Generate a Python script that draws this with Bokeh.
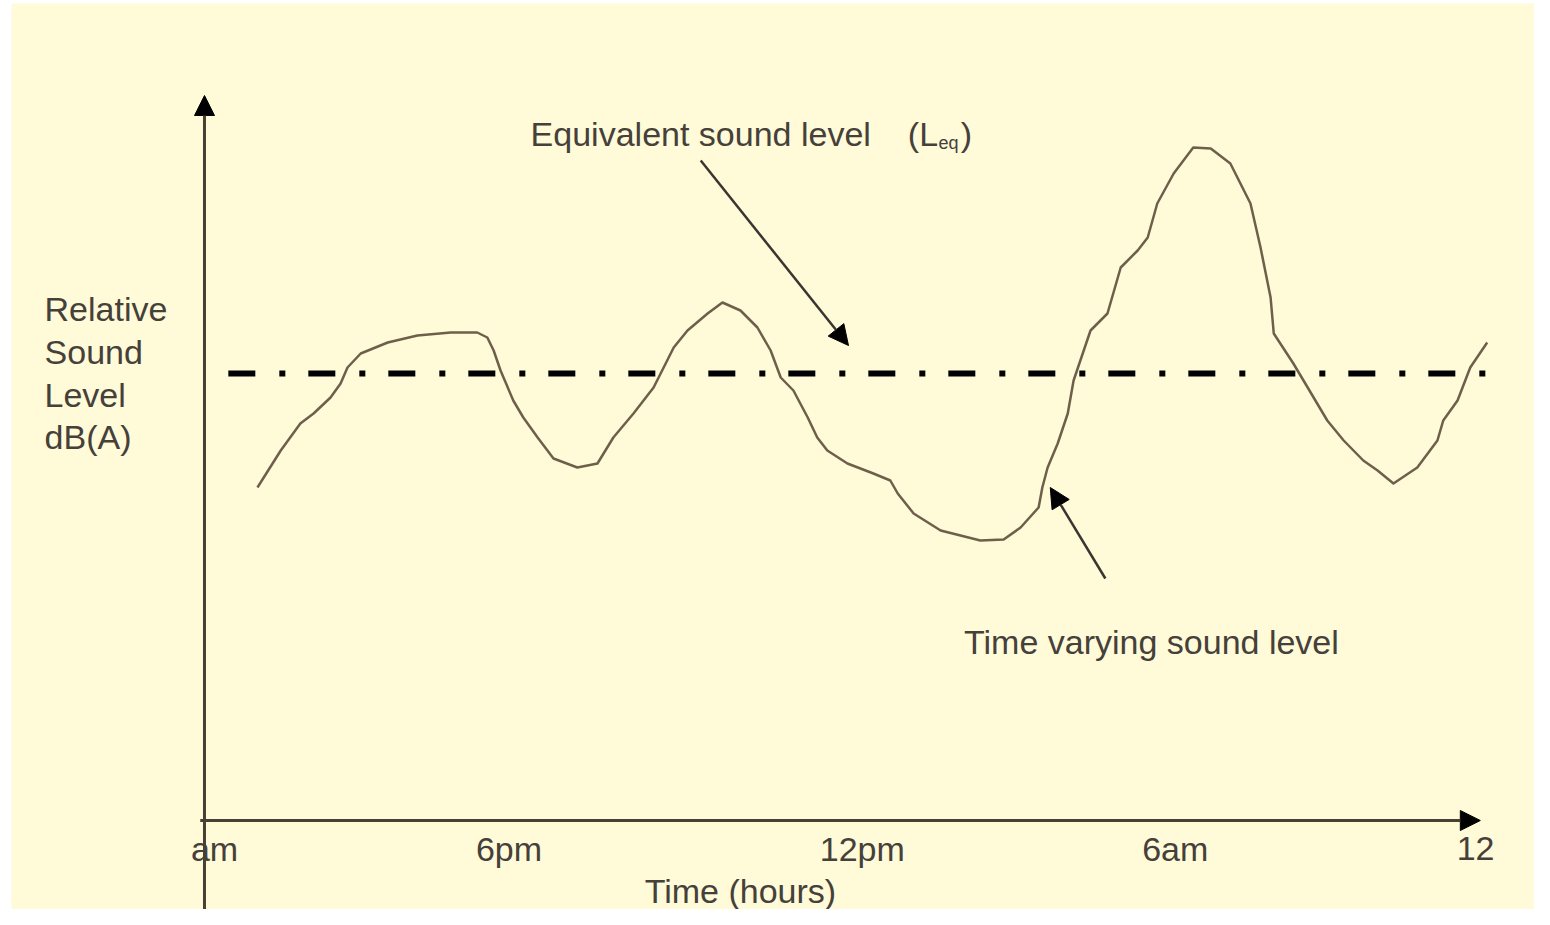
from bokeh.plotting import figure
from bokeh.models import Range1d, Arrow, NormalHead
from bokeh.core.properties import value
from bokeh.embed import file_html
from bokeh.resources import INLINE

# ---- data (hours, relative dB) ----
hours = [1.00, 1.44, 1.81, 2.06, 2.38, 2.57, 2.70, 2.95, 3.46, 4.02, 4.65, 5.15,
         5.34, 5.46, 5.59, 5.83, 6.02, 6.29, 6.59, 7.04, 7.42, 7.72, 8.10, 8.48,
         8.67, 8.86, 9.12, 9.50, 9.78, 10.12, 10.44, 10.69, 10.88, 11.12, 11.39,
         11.57, 11.76, 12.14, 12.63, 12.95, 13.09, 13.39, 13.90, 14.65, 15.09,
         15.41, 15.75, 15.82, 15.92, 16.11, 16.30, 16.41, 16.73, 17.05, 17.30,
         17.62, 17.81, 17.99, 18.30, 18.67, 19.00, 19.37, 19.75, 19.94, 20.13,
         20.19, 20.56, 20.83, 21.20, 21.51, 21.88, 22.15, 22.45, 22.90, 23.28,
         23.39, 23.66, 23.90, 24.22]
level = [33.3, 37.0, 39.7, 40.7, 42.3, 43.7, 45.3, 46.7, 47.8, 48.5, 48.8, 48.8,
         48.3, 47.0, 45.0, 42.0, 40.3, 38.3, 36.2, 35.3, 35.7, 38.3, 40.7, 43.3,
         45.3, 47.3, 49.0, 50.7, 51.8, 51.0, 49.3, 47.0, 44.3, 43.0, 40.3,
         38.3, 37.0, 35.7, 34.7, 34.0, 32.7, 30.7, 29.0, 28.0, 28.1,
         29.3, 31.3, 33.3, 35.3, 37.7, 40.7, 44.0, 49.0, 50.7, 55.3,
         57.0, 58.3, 61.7, 64.7, 67.3, 67.2, 65.7, 61.7, 57.3, 52.3,
         48.7, 45.7, 43.3, 40.0, 38.0, 36.0, 35.0, 33.7, 35.3, 38.0,
         40.0, 42.0, 45.3, 47.8]

leq_hours = [0.45, 24.21]
leq_level = [44.7, 44.7]

tick_hours = [0.19, 5.75, 12.42, 18.33, 24.0]
tick_labels = ["am", "6pm", "12pm", "6am", "12"]

ylabel_lines = ["Relative", "Sound", "Level", "dB(A)"]
ylabel_y = [51.2, 46.9, 42.6, 38.4]

FONT = value("Liberation Sans")
TXT = "#45403a"
AXC = "#4a3f35"
FS = "34px"

p = figure(width=1534, height=909, title=None,
           x_range=Range1d(-3.644, 25.113), y_range=Range1d(-8.9, 81.7),
           output_backend="svg", toolbar_location=None,
           x_axis_location=None, y_axis_location=None,
           min_border=0, min_border_left=11, min_border_right=0,
           min_border_top=3, min_border_bottom=0)
p.grid.visible = False
p.background_fill_color = "#FFFAD7"
p.border_fill_color = "white"
p.outline_line_color = None

# axes drawn as arrows
p.add_layout(Arrow(end=NormalHead(size=20, fill_color="black", line_color="black"),
                   x_start=0, y_start=-9.0, x_end=0, y_end=72.5,
                   line_width=3, line_color=AXC))
p.add_layout(Arrow(end=NormalHead(size=20, fill_color="black", line_color="black"),
                   x_start=-0.08, y_start=0, x_end=24.09, y_end=0,
                   line_width=3, line_color=AXC))

# Leq dash-dot line
p.line(leq_hours, leq_level, line_color="black", line_width=6, line_dash="27 24 6 23")

# time varying level
p.line(hours, level, line_color="#6e5f4b", line_width=2.5, line_join="round")

# annotation arrows
p.add_layout(Arrow(end=NormalHead(size=20, fill_color="black", line_color="black"),
                   x_start=9.37, y_start=66.0, x_end=12.16, y_end=47.5,
                   line_width=2.5, line_color="#3a3530"))
p.add_layout(Arrow(end=NormalHead(size=20, fill_color="black", line_color="black"),
                   x_start=17.01, y_start=24.2, x_end=15.97, y_end=33.3,
                   line_width=2.5, line_color="#3a3530"))

# tick labels
p.text(x=tick_hours, y=[-2.8] * len(tick_hours), text=tick_labels,
       text_font=FONT, text_font_size=FS, text_color=TXT,
       text_align="center", text_baseline="middle")

# y label
p.text(x=[-3.02] * len(ylabel_lines), y=ylabel_y, text=ylabel_lines,
       text_font=FONT, text_font_size=FS, text_color=TXT,
       text_align="left", text_baseline="middle")

# x label
p.text(x=[10.12], y=[-7.0], text=["Time (hours)"],
       text_font=FONT, text_font_size=FS, text_color=TXT,
       text_align="center", text_baseline="middle")

# annotation texts
p.text(x=[9.37], y=[68.7], text=["Equivalent sound level"],
       text_font=FONT, text_font_size=FS, text_color=TXT,
       text_align="center", text_baseline="middle")
p.text(x=[13.28], y=[68.7], text=["(L"],
       text_font=FONT, text_font_size=FS, text_color=TXT,
       text_align="left", text_baseline="middle")
p.text(x=[13.86], y=[67.8], text=["eq"],
       text_font=FONT, text_font_size="18px", text_color=TXT,
       text_align="left", text_baseline="middle")
p.text(x=[14.28], y=[68.7], text=[")"],
       text_font=FONT, text_font_size=FS, text_color=TXT,
       text_align="left", text_baseline="middle")
p.text(x=[17.88], y=[17.9], text=["Time varying sound level"],
       text_font=FONT, text_font_size=FS, text_color=TXT,
       text_align="center", text_baseline="middle")

open("out.html", "w").write(file_html(p, INLINE))
